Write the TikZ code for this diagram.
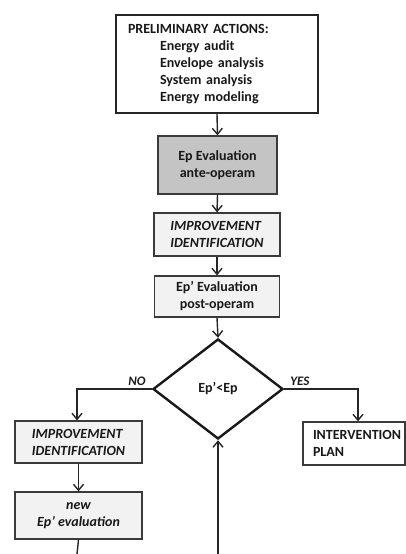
\documentclass[tikz,border=0pt]{standalone}
\usepackage{fontspec}
\setmainfont{Carlito}
\usetikzlibrary{positioning,shapes.geometric,arrows.meta}
\definecolor{boxgray}{HTML}{F2F2F2}
\definecolor{darkfill}{HTML}{C4C4C4}
\definecolor{edgegray}{HTML}{3A3A3A}
\begin{document}
\begin{tikzpicture}[x=1pt,y=-1pt,
		every node/.style={font=\fontsize{14}{17}\selectfont\bfseries, text=black!90},
		stepbox/.style={rectangle, draw=edgegray, fill=boxgray, line width=1.3pt, inner sep=0pt, align=center},
		decbox/.style={diamond, draw=black!90, fill=white, line width=2.4pt, inner sep=0pt, minimum width=130pt, minimum height=100pt},
		lbl/.style={font=\fontsize{13}{15}\selectfont\bfseries\itshape, inner sep=0pt},
		flow/.style={line width=1.4pt, draw=black!85, -{Straight Barb[length=6pt,width=10pt]}}]
		\useasboundingbox (0,0) rectangle (406,554);
		\node[stepbox, fill=white, draw=black!85, line width=2pt, align=left, text width=178pt, inner xsep=12pt, minimum height=98pt] (prelim) at (217,64)
			{PRELIMINARY ACTIONS:\\ \hspace*{32pt}Energy audit\\ \hspace*{32pt}Envelope analysis\\ \hspace*{32pt}System analysis\\ \hspace*{32pt}Energy modeling};
		\node[stepbox, fill=darkfill, minimum width=119pt, minimum height=58pt] (epante) at (217.5,165) {Ep Evaluation\\ante-operam};
		\node[stepbox, align=left, minimum width=126pt, minimum height=43pt, font=\fontsize{14}{17}\selectfont\bfseries\itshape] (improve) at (217,234.5) {IMPROVEMENT\\IDENTIFICATION};
		\node[stepbox, minimum width=125pt, minimum height=41pt] (eppost) at (217,296.5) {Ep’ Evaluation\\post-operam};
		\node[decbox] (check) at (218,389) {Ep’<Ep};
		\node[lbl, above left=3pt and 6pt of check.west] (no) {NO};
		\node[lbl, above right=3pt and 6pt of check.east] (yes) {YES};
		\node[stepbox, align=left, minimum width=127pt, minimum height=42pt, font=\fontsize{14}{17}\selectfont\bfseries\itshape] (improveb) at (78.5,442) {IMPROVEMENT\\IDENTIFICATION};
		\node[stepbox, minimum width=127pt, minimum height=47pt, font=\fontsize{14}{17}\selectfont\bfseries\itshape] (newep) at (78.5,515.5) {new\\Ep’ evaluation};
		\node[stepbox, fill=white, align=left, text width=102pt, minimum height=43pt] (plan) at (354,443.5) {\hspace*{10pt}INTERVENTION\\\hspace*{10pt}PLAN};
		\coordinate (outl) at (77,554);
		\coordinate (outr) at (218,554);
		\draw[flow] (prelim.south) -- (epante.north);
		\draw[flow] (epante.south) -- (improve.north);
		\draw[flow] (improve.south) -- (eppost.north);
		\draw[flow] (eppost.south) -- (check.north);
		\draw[flow] (check.west) -| ([xshift=-1.5pt]improveb.north);
		\draw[flow] (check.east) -| ([xshift=4pt]plan.north);
		\draw[flow] (improveb.south) -- (newep.north);
		\draw[line width=1.4pt, draw=black!85] (newep.south) -- (outl);
		\draw[flow] (outr) -- (check.south);
	\end{tikzpicture}
\end{document}
